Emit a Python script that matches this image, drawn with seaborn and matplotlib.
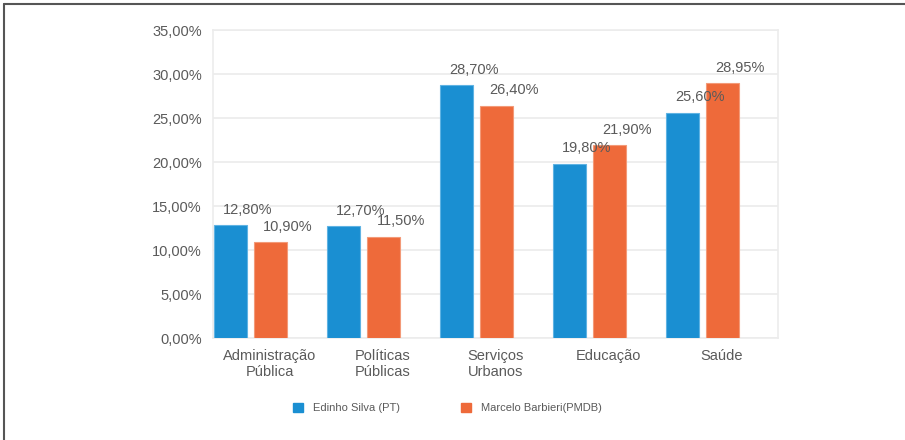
import numpy as np
import pandas as pd
import seaborn as sns
import matplotlib.pyplot as plt
from matplotlib.lines import Line2D
from matplotlib.patches import Patch

categories = ["Administração\nPública", "Políticas\nPúblicas", "Serviços\nUrbanos", "Educação", "Saúde"]
edinho = [12.80, 12.70, 28.70, 19.80, 25.60]
marcelo = [10.90, 11.50, 26.40, 21.90, 28.95]
series_names = ["Edinho Silva (PT)", "Marcelo Barbieri(PMDB)"]
y_ticks = [0, 5, 10, 15, 20, 25, 30, 35]

BLUE = "#1a8fd2"
ORANGE = "#ee6a3a"
TEXT = "#5a5a5a"

df = pd.DataFrame({
    "categoria": categories * 2,
    "valor": edinho + marcelo,
    "candidato": [series_names[0]] * len(categories) + [series_names[1]] * len(categories),
})

sns.set_style("white")
plt.rcParams["font.family"] = ["Liberation Sans", "DejaVu Sans"]

fig = plt.figure(figsize=(9.05, 4.4), dpi=100)
ax = fig.add_axes([213 / 905, 1 - 338 / 440, (778 - 213) / 905, (338 - 30) / 440])

sns.barplot(data=df, x="categoria", y="valor", hue="candidato",
            palette=[BLUE, ORANGE], saturation=1, width=0.708, gap=0.175,
            legend=False, ax=ax, zorder=3)

# lighter edge on the bars like the original gradient look
for bar, c in zip(ax.patches, [BLUE] * 5 + [ORANGE] * 5):
    bar.set_edgecolor("#5fb3e3" if c == BLUE else "#f39a78")
    bar.set_linewidth(0.8)

# value labels, shifted slightly right of the bar centre
for cont in ax.containers:
    for bar in cont:
        h = bar.get_height()
        ax.annotate(f"{h:.2f}%".replace(".", ","),
                    (bar.get_x() + bar.get_width() / 2, h),
                    xytext=(12, 6), textcoords="offset points",
                    ha="center", va="bottom", fontsize=10.5, color=TEXT)

ax.set_ylim(0, 35)
ax.set_yticks(y_ticks)
ax.set_yticklabels([f"{v:.2f}%".replace(".", ",") for v in y_ticks])
ax.set_xlim(-0.336, len(categories) - 0.336)
ax.set_xticks(np.arange(len(categories)) + 0.164)
ax.set_xticklabels(categories, linespacing=1.15)
ax.tick_params(axis="both", length=0, labelsize=10.5, labelcolor=TEXT)
ax.tick_params(axis="y", pad=8)
ax.tick_params(axis="x", pad=8)
ax.set_xlabel("")
ax.set_ylabel("")
ax.yaxis.grid(True, color="#ebebeb", linewidth=1.2, zorder=0)
ax.set_axisbelow(True)
for s in ax.spines.values():
    s.set_color("#ececec")
    s.set_linewidth(1.2)

handles = [Patch(facecolor=BLUE, edgecolor=BLUE), Patch(facecolor=ORANGE, edgecolor=ORANGE)]
fig.legend(handles, series_names, loc="center", bbox_to_anchor=(447 / 905, 1 - 408 / 440),
           ncol=2, frameon=False, fontsize=8, handlelength=0.9, handleheight=0.9,
           handletextpad=0.9, columnspacing=5.5, labelcolor=TEXT)

# outer frame: top and left edges of the page box
fig.add_artist(Line2D([4 / 905, 1], [1 - 4 / 440, 1 - 4 / 440], color="#555555", linewidth=1.5))
fig.add_artist(Line2D([4 / 905, 4 / 905], [0, 1 - 4 / 440], color="#555555", linewidth=1.5))

fig.savefig("out.png", dpi=100)
